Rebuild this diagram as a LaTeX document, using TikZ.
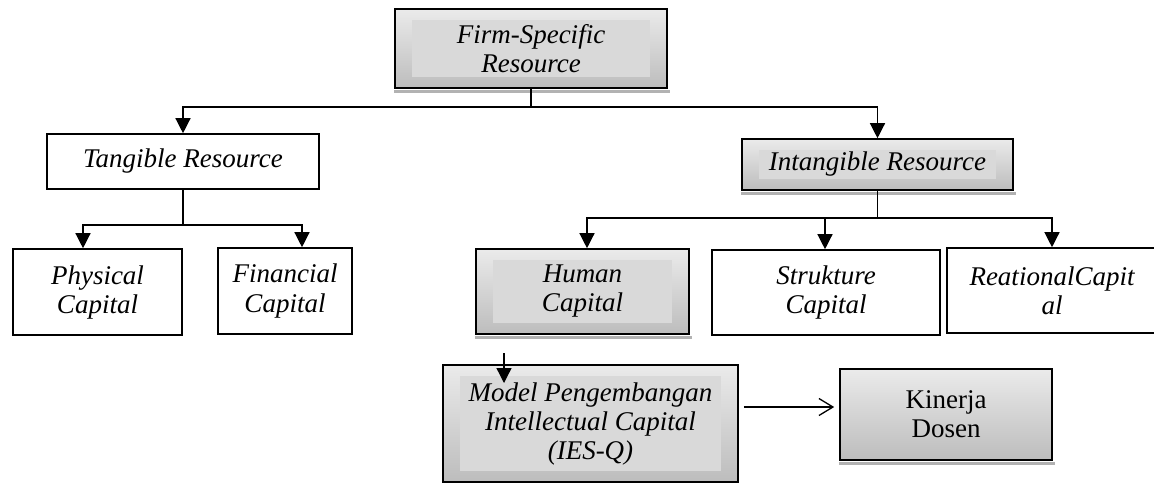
\documentclass[tikz,border=0pt]{standalone}
\usepackage{fontspec}
\setmainfont{Liberation Serif}
\usepackage{tikz}
\usetikzlibrary{arrows.meta,calc,positioning}

\begin{document}
\begin{tikzpicture}[x=1pt,y=-1pt,
	txt/.style={font=\fontsize{27}{29}\selectfont\itshape},
	box/.style={txt,draw,line width=1.6pt,align=center,inner sep=0pt},
	grad/.style={top color=gray!16,bottom color=gray!52},
	shbox/.style={box,grad,
		path picture={\fill[gray!30] ($(path picture bounding box.north west)+(17pt,-11pt)$) rectangle ($(path picture bounding box.south east)+(-17pt,11pt)$);}},
	conn/.style={line width=1.3pt},
	arr/.style={conn,-{Triangle[width=15pt,length=15pt]}},
	oarr/.style={conn,-{Straight Barb[width=17pt,length=14pt,line width=1.3pt]}}]
	\useasboundingbox (0,0) rectangle (1154,483);
	% boxes
	\node[shbox,minimum width=272pt,minimum height=79pt] (firm) at (531,48.5) {Firm-Specific\\Resource};
	\node[box,minimum width=272pt,minimum height=55pt] (tang) at (183,161.5) {Tangible Resource};
	\node[shbox,minimum width=271pt,minimum height=51pt] (intang) at (877.5,164.5) {Intangible Resource};
	\node[box,minimum width=169pt,minimum height=86pt] (phys) at (97.5,292) {Physical\\Capital};
	\node[box,minimum width=134pt,minimum height=86pt] (fin) at (285,291) {Financial\\Capital};
	\node[shbox,minimum width=213pt,minimum height=85pt] (human) at (582.5,291.5) {Human\\Capital};
	\node[box,minimum width=228pt,minimum height=85pt] (strk) at (826,292.5) {Strukture\\Capital};
	\node[box,minimum width=210pt,minimum height=85pt] (reat) at (1052,290.5) {ReationalCapit\\al};
	\node[shbox,minimum width=295pt,minimum height=117pt] (model) at (590.5,423.5) {Model Pengembangan\\Intellectual Capital\\(IES-Q)};
	\node[box,grad,font=\fontsize{27}{29}\selectfont\upshape,minimum width=212pt,minimum height=91pt] (kinerja) at (946,414.5) {Kinerja\\Dosen};
	% shadows
	\foreach \n in {firm,intang,human,model,kinerja}
	{\fill[gray!60] ([yshift=-1pt]\n.south west) rectangle ([xshift=2pt,yshift=-4pt]\n.south east);}
	% connectors
	\coordinate (fj) at (531,107);
	\coordinate (tj) at (183,225);
	\coordinate (ij) at (877.5,218);
	\draw[conn] (firm.south) -- (fj);
	\draw[arr] (fj) -| (tang.north);
	\draw[arr] (fj) -| (intang.north);
	\draw[conn] (tang.south) -- (tj);
	\foreach \n/\s in {phys/-14.5,fin/17}{\draw[arr] (tj) -| ([xshift=\s pt]\n.north);}
	\draw[conn] (intang.south) -- (ij);
	\foreach \n/\s in {human/4.5,strk/-1,reat/0}{\draw[arr] (ij) -| ([xshift=\s pt]\n.north);}
	\coordinate (hm1) at (504,353);
	\coordinate (hm2) at (504,383);
	\draw[arr] (hm1) -- (hm2);
	\draw[oarr] ([xshift=5pt,yshift=16.5pt]model.east) -- ([xshift=-5pt,yshift=7.5pt]kinerja.west);
\end{tikzpicture}
\end{document}
